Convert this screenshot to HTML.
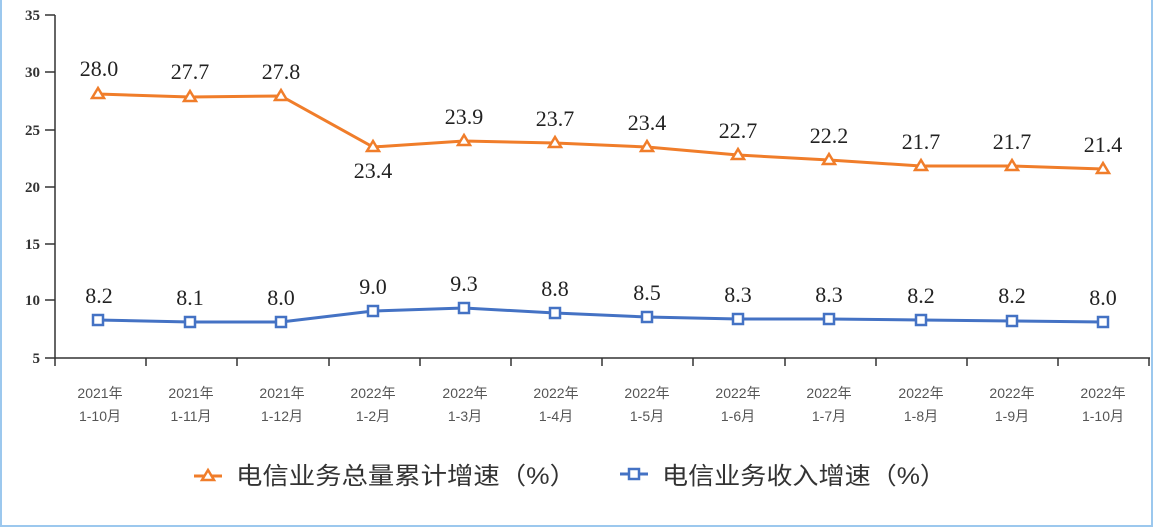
<!DOCTYPE html>
<html><head><meta charset="utf-8"><style>
html,body{margin:0;padding:0;background:#fff;}
svg{display:block;}
</style></head><body>
<svg width="1159" height="529" xmlns="http://www.w3.org/2000/svg">
<rect x="1" y="-2" width="1151" height="528" fill="#fff" stroke="#9cc8ee" stroke-width="2"/>
<g font-family="Liberation Serif, serif" font-size="15" font-weight="bold" fill="#333" text-anchor="end">
<text x="40" y="20">35</text><text x="40" y="77">30</text><text x="40" y="135">25</text>
<text x="40" y="192">20</text><text x="40" y="249">15</text><text x="40" y="305">10</text><text x="40" y="363">5</text>
</g>
<g stroke="#333" stroke-width="1.5" fill="none">
<line x1="55" y1="15" x2="55" y2="358"/>
<line x1="55" y1="358" x2="1150" y2="358"/>
<path d="M45 15H55M45 72H55M45 130H55M45 187H55M45 244H55M45 300H55M45 358H55"/>
<path d="M55 358v8M146 358v8M237 358v8M329 358v8M420 358v8M511 358v8M602 358v8M693 358v8M785 358v8M876 358v8M967 358v8M1058 358v8M1149 358v8"/>
</g>
<g font-family="Liberation Sans, 'Noto Sans CJK SC', sans-serif" font-size="14" fill="#555" text-anchor="middle">
<text x="100" y="398">2021年</text><text x="100" y="421">1-10月</text>
<text x="191" y="398">2021年</text><text x="191" y="421">1-11月</text>
<text x="282" y="398">2021年</text><text x="282" y="421">1-12月</text>
<text x="373" y="398">2022年</text><text x="373" y="421">1-2月</text>
<text x="465" y="398">2022年</text><text x="465" y="421">1-3月</text>
<text x="556" y="398">2022年</text><text x="556" y="421">1-4月</text>
<text x="647" y="398">2022年</text><text x="647" y="421">1-5月</text>
<text x="738" y="398">2022年</text><text x="738" y="421">1-6月</text>
<text x="829" y="398">2022年</text><text x="829" y="421">1-7月</text>
<text x="921" y="398">2022年</text><text x="921" y="421">1-8月</text>
<text x="1012" y="398">2022年</text><text x="1012" y="421">1-9月</text>
<text x="1103" y="398">2022年</text><text x="1103" y="421">1-10月</text>
</g>
<polyline fill="none" stroke="#f07d2a" stroke-width="3" points="98,94 190,97 281,96 373,147 464,141 555,143 647,147 738,155 829,160 921,166 1012,166 1103,169"/>
<g fill="#fff" stroke="#f07d2a" stroke-width="2.5">
<path d="M98 88l6 10h-12z"/><path d="M190 91l6 10h-12z"/><path d="M281 90l6 10h-12z"/><path d="M373 141l6 10h-12z"/>
<path d="M464 135l6 10h-12z"/><path d="M555 137l6 10h-12z"/><path d="M647 141l6 10h-12z"/><path d="M738 149l6 10h-12z"/>
<path d="M829 154l6 10h-12z"/><path d="M921 160l6 10h-12z"/><path d="M1012 160l6 10h-12z"/><path d="M1103 163l6 10h-12z"/>
</g>
<polyline fill="none" stroke="#4472c4" stroke-width="3" points="98,320 190,322 281,322 373,311 464,308 555,313 647,317 738,319 829,319 921,320 1012,321 1103,322"/>
<g fill="#fff" stroke="#4472c4" stroke-width="2.5">
<rect x="93" y="315" width="10" height="10"/><rect x="185" y="317" width="10" height="10"/><rect x="276" y="317" width="10" height="10"/>
<rect x="368" y="306" width="10" height="10"/><rect x="459" y="303" width="10" height="10"/><rect x="550" y="308" width="10" height="10"/>
<rect x="642" y="312" width="10" height="10"/><rect x="733" y="314" width="10" height="10"/><rect x="824" y="314" width="10" height="10"/>
<rect x="916" y="315" width="10" height="10"/><rect x="1007" y="316" width="10" height="10"/><rect x="1098" y="317" width="10" height="10"/>
</g>
<g font-family="Liberation Serif, serif" font-size="22" fill="#222" text-anchor="middle">
<text x="99" y="76">28.0</text><text x="190" y="79">27.7</text><text x="281" y="79">27.8</text><text x="373" y="178">23.4</text>
<text x="464" y="124">23.9</text><text x="555" y="126">23.7</text><text x="647" y="130">23.4</text><text x="738" y="138">22.7</text>
<text x="829" y="143">22.2</text><text x="921" y="149">21.7</text><text x="1012" y="149">21.7</text><text x="1103" y="152">21.4</text>
<text x="99" y="303">8.2</text><text x="190" y="305">8.1</text><text x="281" y="305">8.0</text><text x="373" y="294">9.0</text>
<text x="464" y="291">9.3</text><text x="555" y="296">8.8</text><text x="647" y="300">8.5</text><text x="738" y="302">8.3</text>
<text x="829" y="302">8.3</text><text x="921" y="303">8.2</text><text x="1012" y="303">8.2</text><text x="1103" y="305">8.0</text>
</g>
<line x1="194" y1="476" x2="222" y2="476" stroke="#f07d2a" stroke-width="3"/>
<path d="M208 470l6 10h-12z" fill="#fff" stroke="#f07d2a" stroke-width="2.5"/>
<line x1="620" y1="474" x2="648" y2="474" stroke="#4472c4" stroke-width="3"/>
<rect x="629" y="469" width="10" height="10" fill="#fff" stroke="#4472c4" stroke-width="2.5"/>
<g font-family="Liberation Sans, 'Noto Sans CJK SC', sans-serif" font-size="24" fill="#333">
<text x="236" y="484" textLength="340" lengthAdjust="spacingAndGlyphs">电信业务总量累计增速（%）</text>
<text x="662" y="484" textLength="284" lengthAdjust="spacingAndGlyphs">电信业务收入增速（%）</text>
</g>
</svg>
</body></html>
